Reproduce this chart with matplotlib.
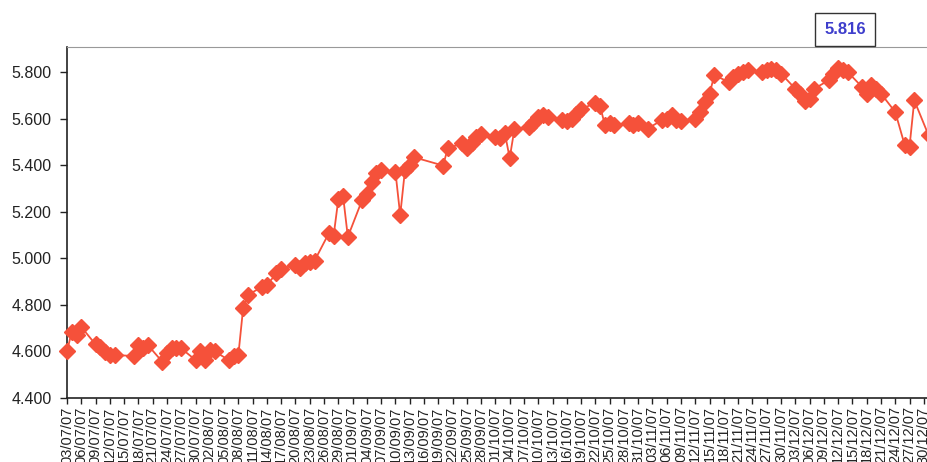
import matplotlib
matplotlib.use("Agg")
import matplotlib.pyplot as plt
import matplotlib.dates as mdates
import matplotlib.ticker as mticker
import numpy as np
import pandas as pd

# daily closing values (trading days only)
dates = [
    "2007-07-03", "2007-07-04", "2007-07-05", "2007-07-06",
    "2007-07-09", "2007-07-10", "2007-07-11", "2007-07-12", "2007-07-13",
    "2007-07-17", "2007-07-18", "2007-07-19", "2007-07-20",
    "2007-07-23", "2007-07-24", "2007-07-25", "2007-07-26", "2007-07-27",
    "2007-07-30", "2007-07-31", "2007-08-01", "2007-08-02", "2007-08-03",
    "2007-08-06", "2007-08-07", "2007-08-08", "2007-08-09", "2007-08-10",
    "2007-08-13", "2007-08-14", "2007-08-16", "2007-08-17",
    "2007-08-20", "2007-08-21", "2007-08-22", "2007-08-23", "2007-08-24",
    "2007-08-27", "2007-08-28", "2007-08-29", "2007-08-30", "2007-08-31",
    "2007-09-03", "2007-09-04", "2007-09-05", "2007-09-06", "2007-09-07",
    "2007-09-10", "2007-09-11", "2007-09-12", "2007-09-13", "2007-09-14",
    "2007-09-20", "2007-09-21",
    "2007-09-24", "2007-09-25", "2007-09-26", "2007-09-27", "2007-09-28",
    "2007-10-01", "2007-10-02", "2007-10-03", "2007-10-04", "2007-10-05",
    "2007-10-08", "2007-10-09", "2007-10-10", "2007-10-11", "2007-10-12",
    "2007-10-15", "2007-10-16", "2007-10-17", "2007-10-18", "2007-10-19",
    "2007-10-22", "2007-10-23", "2007-10-24", "2007-10-25", "2007-10-26",
    "2007-10-29", "2007-10-30", "2007-10-31", "2007-11-02",
    "2007-11-05", "2007-11-06", "2007-11-07", "2007-11-08", "2007-11-09",
    "2007-11-12", "2007-11-13", "2007-11-14", "2007-11-15", "2007-11-16",
    "2007-11-19", "2007-11-20", "2007-11-21", "2007-11-22", "2007-11-23",
    "2007-11-26", "2007-11-27", "2007-11-28", "2007-11-29", "2007-11-30",
    "2007-12-03", "2007-12-04", "2007-12-05", "2007-12-06", "2007-12-07",
    "2007-12-10", "2007-12-11", "2007-12-12", "2007-12-13", "2007-12-14",
    "2007-12-17", "2007-12-18", "2007-12-19", "2007-12-20", "2007-12-21",
    "2007-12-24", "2007-12-26", "2007-12-27", "2007-12-28", "2007-12-31",
]
values = [
    4.600, 4.685, 4.670, 4.705,
    4.630, 4.620, 4.598, 4.585, 4.585,
    4.580, 4.627, 4.613, 4.627,
    4.556, 4.595, 4.613, 4.613, 4.613,
    4.563, 4.600, 4.563, 4.606, 4.600,
    4.563, 4.580, 4.585, 4.785, 4.842,
    4.878, 4.885, 4.935, 4.955,
    4.971, 4.957, 4.981, 4.983, 4.989,
    5.107, 5.095, 5.253, 5.267, 5.092,
    5.250, 5.278, 5.328, 5.364, 5.378,
    5.371, 5.185, 5.378, 5.400, 5.433,
    5.398, 5.472,
    5.493, 5.472, 5.493, 5.521, 5.533,
    5.521, 5.515, 5.536, 5.430, 5.555,
    5.565, 5.579, 5.607, 5.617, 5.607,
    5.593, 5.590, 5.600, 5.621, 5.640,
    5.667, 5.653, 5.572, 5.579, 5.572,
    5.579, 5.572, 5.579, 5.557,
    5.593, 5.600, 5.615, 5.595, 5.590,
    5.600, 5.628, 5.671, 5.707, 5.786,
    5.757, 5.779, 5.793, 5.800, 5.810,
    5.800, 5.808, 5.812, 5.807, 5.793,
    5.728, 5.706, 5.677, 5.684, 5.728,
    5.764, 5.793, 5.816, 5.807, 5.800,
    5.736, 5.707, 5.743, 5.728, 5.707,
    5.628, 5.485, 5.479, 5.678, 5.528,
]

y_ticks = [4.4, 4.6, 4.8, 5.0, 5.2, 5.4, 5.6, 5.8]

plt.rcParams["font.family"] = ["Liberation Sans", "DejaVu Sans"]

line_color = "#F5513A"
text_color = "#222222"

# the original chart is cropped on the right, so the axes run past the figure
W, H = 927, 462
px_day = 4.76
left_px, top_px, bottom_px = 67, 47, 398
span_days = 186

fig = plt.figure(figsize=(W / 100, H / 100), dpi=100)
ax = fig.add_axes([left_px / W, (H - bottom_px) / H,
                   span_days * px_day / W, (bottom_px - top_px) / H])

x = pd.to_datetime(dates)
ax.plot(x, values, color=line_color, lw=1.3, marker="D", ms=8.5,
        mfc=line_color, mec=line_color, clip_on=False, zorder=3)

start = pd.Timestamp("2007-07-03")
end = start + pd.Timedelta(days=span_days)
ax.set_xlim(start, end)
ax.set_xticks(pd.date_range(start, end, freq="3D"))
ax.xaxis.set_major_formatter(mdates.DateFormatter("%d/%m/%y"))

ax.set_ylim(4.4, 5.907)
ax.set_yticks(y_ticks)
ax.yaxis.set_major_formatter(mticker.FormatStrFormatter("%.3f"))

ax.tick_params(axis="y", direction="out", length=5, width=1,
               labelsize=11.5, pad=6, colors=text_color)
ax.tick_params(axis="x", direction="out", length=4, width=1,
               labelsize=10.5, pad=2, colors=text_color, labelrotation=90)

for side in ("left", "bottom"):
    ax.spines[side].set_color(text_color)
    ax.spines[side].set_linewidth(1.2)
ax.spines["top"].set(color="0.6", linewidth=0.8, linestyle=(0, (1.5, 1)))
ax.spines["right"].set_visible(False)

# label the highest close
i = int(np.argmax(values))
ax.annotate(f"{values[i]:.3f}", xy=(x[i], values[i]), xytext=(7, 39),
            textcoords="offset pixels", ha="center", va="center",
            fontsize=12, fontweight="bold", color="#3E3ECC",
            annotation_clip=False,
            bbox=dict(boxstyle="square,pad=0.55", fc="white", ec="#333333", lw=1))

fig.savefig("out.png", dpi=100)
